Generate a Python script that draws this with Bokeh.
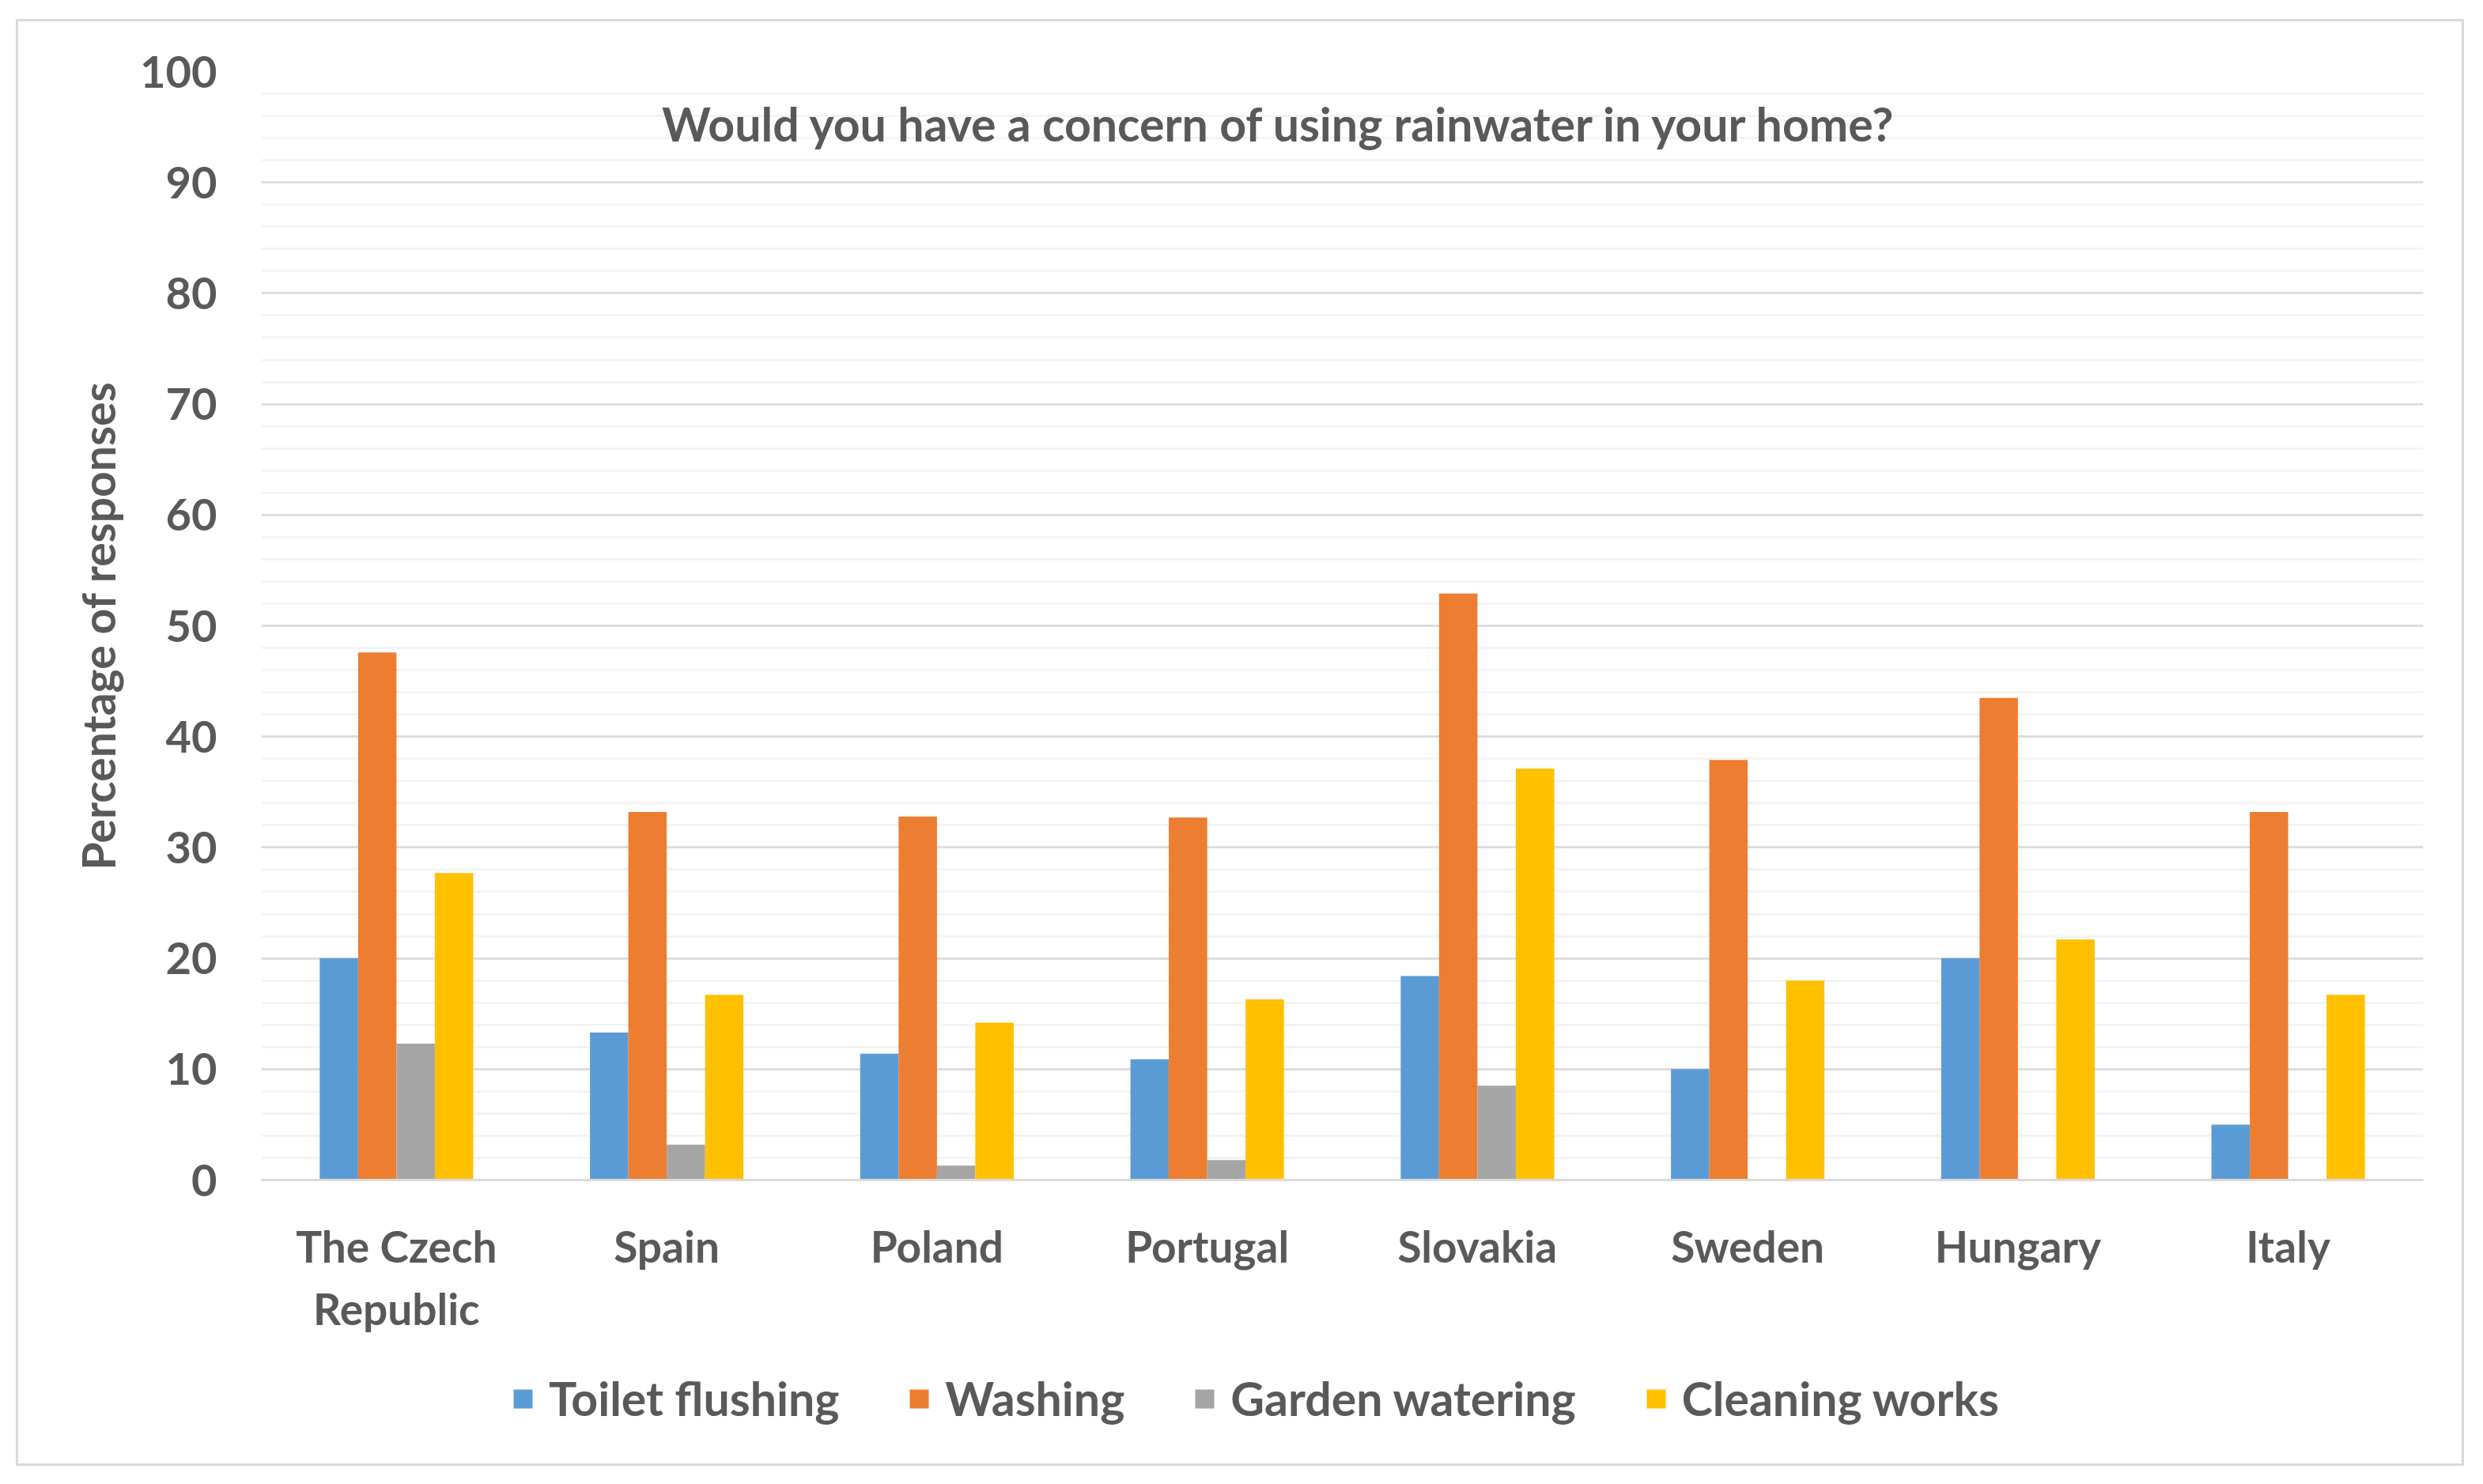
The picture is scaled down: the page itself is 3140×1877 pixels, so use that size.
from bokeh.plotting import figure
from bokeh.layouts import column
from bokeh.models import (ColumnDataSource, FactorRange, Range1d, FixedTicker, Label,
                          Legend, LegendItem)
from bokeh.transform import dodge
from bokeh.embed import file_html
from bokeh.resources import INLINE

countries = ["The Czech\nRepublic", "Spain", "Poland", "Portugal", "Slovakia", "Sweden", "Hungary", "Italy"]
toilet = [20.0, 13.3, 11.4, 10.9, 18.4, 10.0, 20.0, 5.0]
washing = [47.6, 33.2, 32.8, 32.7, 52.9, 37.9, 43.5, 33.2]
garden = [12.3, 3.2, 1.3, 1.8, 8.5, 0.0, 0.0, 0.0]
cleaning = [27.7, 16.7, 14.2, 16.3, 37.1, 18.0, 21.7, 16.7]
series_names = ["Toilet flushing", "Washing", "Garden watering", "Cleaning works"]
y_ticks = list(range(0, 101, 10))
title_text = "Would you have a concern of using rainwater in your home?"
y_label = "Percentage of responses"

colors = ["#5B9BD5", "#ED7D31", "#A5A5A5", "#FFC000"]
cols = ["toilet", "washing", "garden", "cleaning"]
FONT = "Lato"
TXT = "#595959"

src = ColumnDataSource(dict(country=countries, toilet=toilet, washing=washing,
                            garden=garden, cleaning=cleaning))

# content origin on the page (inside a 3px border placed at 20, 24)
OX, OY = 23, 27
W = 3090
H1 = 1720 - OY          # main chart part
H2 = 1851 - 1720        # legend strip
FRAME_LEFT = 330

x_range = FactorRange(factors=countries)
p = figure(width=W, height=H1, x_range=x_range,
           y_range=Range1d(0, 100), output_backend="svg", toolbar_location=None,
           min_border_left=FRAME_LEFT - OX, min_border_right=W - (3064 - OX),
           min_border_top=90 - OY, min_border_bottom=H1 - (1492 - OY))
p.outline_line_color = None
p.background_fill_color = "white"
p.border_fill_color = "white"

bw = 0.142
offsets = [-1.5 * bw, -0.5 * bw, 0.5 * bw, 1.5 * bw]
for col, off, c in zip(cols, offsets, colors):
    p.vbar(x=dodge("country", off, range=x_range), top=col, width=bw, source=src,
           fill_color=c, line_color=None)

# axes
p.yaxis.ticker = FixedTicker(ticks=y_ticks, minor_ticks=list(range(0, 101, 2)))
p.yaxis.axis_line_color = None
p.yaxis.major_tick_line_color = None
p.yaxis.minor_tick_line_color = None
p.yaxis.major_label_text_font = FONT
p.yaxis.major_label_text_font_style = "bold"
p.yaxis.major_label_text_font_size = "56px"
p.yaxis.major_label_text_color = TXT
p.yaxis.major_label_standoff = 50
p.yaxis.axis_label = y_label
p.yaxis.axis_label_text_font = FONT
p.yaxis.axis_label_text_font_style = "bold"
p.yaxis.axis_label_text_font_size = "57px"
p.yaxis.axis_label_text_color = TXT
p.yaxis.axis_label_standoff = 16

p.xaxis.axis_line_color = "#D9D9D9"
p.xaxis.axis_line_width = 3
p.xaxis.major_tick_line_color = None
p.xaxis.minor_tick_line_color = None
p.xaxis.major_label_text_font = FONT
p.xaxis.major_label_text_font_style = "bold"
p.xaxis.major_label_text_font_size = "55px"
p.xaxis.major_label_text_color = TXT
p.xaxis.major_label_standoff = 44

p.xgrid.grid_line_color = None
p.ygrid.grid_line_color = "#D9D9D9"
p.ygrid.grid_line_width = 2.5
p.ygrid.minor_grid_line_color = "#F2F2F2"
p.ygrid.minor_grid_line_width = 2.5

# title inside plot area
p.add_layout(Label(x=3.77, y=95.3, text=title_text, text_align="center", text_baseline="middle",
                   text_font=FONT, text_font_style="bold", text_font_size="59px",
                   text_color=TXT))

# legend strip: same series, drawn far outside its visible y window, so only the legend shows
p2 = figure(width=W, height=H2, x_range=x_range, y_range=Range1d(1000, 1100),
            output_backend="svg", toolbar_location=None, x_axis_type=None, y_axis_type=None,
            min_border_left=0, min_border_right=0, min_border_top=0, min_border_bottom=0)
p2.outline_line_color = None
p2.background_fill_color = "white"
p2.border_fill_color = "white"
p2.xgrid.grid_line_color = None
p2.ygrid.grid_line_color = None
leg_renderers = []
for col, off, c in zip(cols, offsets, colors):
    r = p2.vbar(x=dodge("country", off, range=x_range), top=col, width=bw, source=src,
                fill_color=c, line_color=None)
    leg_renderers.append(r)

legend = Legend(items=[LegendItem(label=n, renderers=[r]) for n, r in zip(series_names, leg_renderers)],
                orientation="horizontal", location=(646 - FRAME_LEFT, 1851 - 1804), padding=0, margin=0,
                glyph_width=30, glyph_height=30, label_standoff=18, spacing=86,
                label_text_font=FONT, label_text_font_style="bold", label_text_font_size="59px",
                label_text_color=TXT, border_line_color=None, background_fill_alpha=0)
p2.add_layout(legend, "center")

layout = column(p, p2, spacing=0,
                styles={"border": "3px solid #D9D9D9", "margin-left": "20px",
                        "margin-top": "24px", "box-sizing": "content-box"})

open("out.html", "w").write(file_html(layout, INLINE))
